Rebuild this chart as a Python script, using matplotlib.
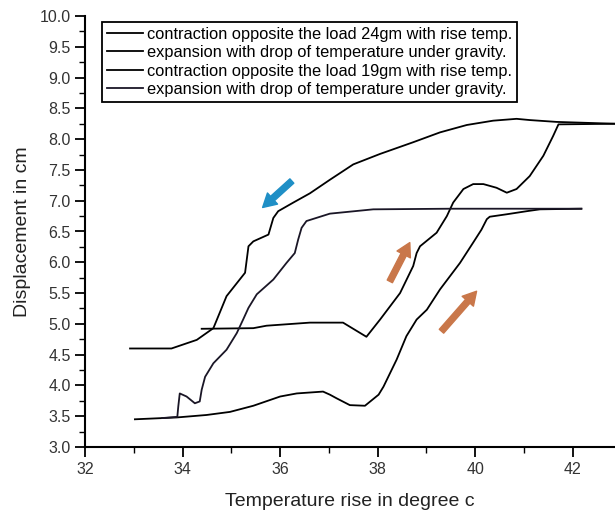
import matplotlib
matplotlib.use("Agg")
import matplotlib.pyplot as plt
from matplotlib.ticker import MultipleLocator

plt.rcParams['font.family'] = ['Liberation Sans', 'DejaVu Sans']

# ---------------- data ----------------
# contraction opposite the load 24gm with rise temp.
c24_x = [32.92, 33.77, 34.29, 34.63, 34.90, 35.10, 35.28, 35.35, 35.45,
         35.76, 35.86, 35.96, 36.27, 36.61, 37.02, 37.50, 38.05, 38.73, 39.28,
         39.83, 40.37, 40.85, 41.12, 41.67, 42.87]
c24_y = [4.60, 4.60, 4.74, 4.93, 5.45, 5.65, 5.83, 6.26, 6.34,
         6.45, 6.72, 6.83, 6.97, 7.12, 7.34, 7.59, 7.76, 7.95, 8.11,
         8.23, 8.30, 8.33, 8.31, 8.28, 8.25]

# expansion with drop of temperature under gravity (24gm)
e24_x = [42.87, 41.71, 41.60, 41.40, 41.12, 40.85, 40.65, 40.44, 40.17, 39.96, 39.76,
         39.55, 39.42, 39.21, 38.87, 38.80, 38.73, 38.46, 38.05, 37.77, 37.29, 36.61,
         35.72, 35.45, 34.39]
e24_y = [8.25, 8.24, 8.05, 7.73, 7.40, 7.19, 7.13, 7.21, 7.27, 7.27, 7.19,
         6.97, 6.75, 6.48, 6.26, 6.15, 5.94, 5.50, 5.07, 4.79, 5.02, 5.02,
         4.97, 4.93, 4.92]

# contraction opposite the load 19gm with rise temp.
c19_x = [33.02, 33.88, 34.49, 34.97, 35.45, 36.00, 36.34, 36.88, 37.02, 37.16, 37.43,
         37.74, 38.02, 38.12, 38.39, 38.59, 38.80, 39.01, 39.28, 39.69, 39.96, 40.13,
         40.24, 40.30, 40.65, 41.06, 41.33, 42.18]
c19_y = [3.45, 3.48, 3.52, 3.57, 3.67, 3.82, 3.87, 3.90, 3.85, 3.79, 3.68,
         3.67, 3.85, 3.98, 4.42, 4.80, 5.07, 5.23, 5.56, 5.99, 6.32, 6.53,
         6.70, 6.74, 6.78, 6.83, 6.86, 6.87]

# expansion with drop of temperature under gravity (19gm)
e19_x = [42.18, 39.48, 37.91, 37.02, 36.54, 36.44, 36.37, 36.30, 36.13, 35.86, 35.52,
         35.35, 35.24, 35.11, 34.90, 34.63, 34.46, 34.39, 34.35, 34.25, 34.08, 33.94,
         33.91, 33.89, 33.58]
e19_y = [6.87, 6.87, 6.86, 6.79, 6.67, 6.56, 6.37, 6.15, 5.99, 5.72, 5.48,
         5.26, 5.07, 4.85, 4.58, 4.36, 4.14, 3.93, 3.74, 3.71, 3.82, 3.87,
         3.66, 3.49, 3.47]

labels = ["contraction opposite the load 24gm with rise temp.",
          "expansion with drop of temperature under gravity.",
          "contraction opposite the load 19gm with rise temp.",
          "expansion with drop of temperature under gravity."]

# direction arrows: (tail x, tail y, head x, head y)
blue_arrow = (36.24, 7.32, 35.64, 6.89)
brown_arrows = [(38.25, 5.69, 38.66, 6.32), (39.31, 4.88, 40.03, 5.53)]

# ---------------- plot ----------------
fig = plt.figure(figsize=(6.15, 5.17), dpi=100)
ax = fig.add_axes([85.2 / 615, 70 / 517, 529.8 / 615, 431 / 517])

ax.plot(c24_x, c24_y, color='black', lw=1.3, label=labels[0])
ax.plot(e24_x, e24_y, color='black', lw=1.3, label=labels[1])
ax.plot(c19_x, c19_y, color='black', lw=1.3, label=labels[2])
ax.plot(e19_x, e19_y, color='#1a1626', lw=1.3, label=labels[3])

arrow_style = 'simple,head_width=0.9,head_length=0.8,tail_width=0.35'
tx, ty, hx, hy = blue_arrow
ax.annotate("", xy=(hx, hy), xytext=(tx, ty),
            arrowprops=dict(arrowstyle=arrow_style, color='#1f8fc6',
                            mutation_scale=12, shrinkA=0, shrinkB=0))
for tx, ty, hx, hy in brown_arrows:
    ax.annotate("", xy=(hx, hy), xytext=(tx, ty),
                arrowprops=dict(arrowstyle=arrow_style, color='#c9774a',
                                mutation_scale=12, shrinkA=0, shrinkB=0))

ax.set_xlim(32, 42.87)
ax.set_ylim(3.0, 10.0)
ax.xaxis.set_major_locator(MultipleLocator(2))
ax.xaxis.set_minor_locator(MultipleLocator(1))
ax.yaxis.set_major_locator(MultipleLocator(0.5))
ax.yaxis.set_minor_locator(MultipleLocator(0.25))
ax.yaxis.set_major_formatter(plt.FormatStrFormatter('%.1f'))

ax.spines['top'].set_visible(False)
ax.spines['right'].set_visible(False)
ax.spines['left'].set_linewidth(1.5)
ax.spines['bottom'].set_linewidth(1.5)
ax.tick_params(which='major', direction='out', length=7, width=1.3,
               labelsize=11.5, labelcolor='#333333')
ax.tick_params(which='minor', direction='out', length=4, width=1.0)

ax.set_xlabel('Temperature rise in degree c', fontsize=14, color='#222222', labelpad=12)
ax.set_ylabel('Displacement in cm', fontsize=14, color='#222222', labelpad=6)

leg = ax.legend(loc='upper left', bbox_to_anchor=(0.032, 0.986), borderaxespad=0,
                fontsize=11.8, handlelength=2.2, handletextpad=0.25, labelspacing=0.2,
                borderpad=0.3, fancybox=False, edgecolor='black', framealpha=1)
leg.get_frame().set_linewidth(1.3)

fig.savefig('out.png', dpi=100)
